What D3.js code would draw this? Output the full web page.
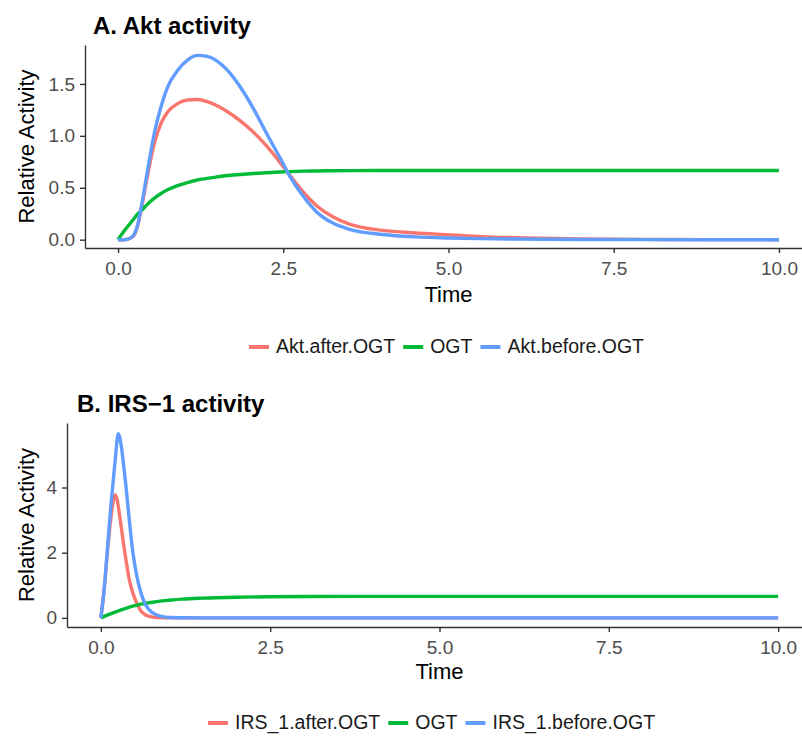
<!DOCTYPE html>
<html>
<head>
<meta charset="utf-8">
<script src="https://cdn.jsdelivr.net/npm/d3@7/dist/d3.min.js"></script>
<style>
  html, body { margin: 0; padding: 0; background: #fff; }
  svg { display: block; font-family: "Liberation Sans", Arial, sans-serif; }
</style>
</head>
<body>
<svg id="chart" width="802" height="736"></svg>
<script>
// ---------------- DATA ----------------
const xTicks = [0, 2.5, 5, 7.5, 10];
const yTicksA = [0, 0.5, 1.0, 1.5];
const yTicksB = [0, 2, 4];

const timeA = [0, 0.1, 0.2, 0.25, 0.3, 0.35, 0.45, 0.55, 0.65, 0.75, 0.9, 1.05, 1.2, 1.35, 1.5, 1.65, 1.85, 2.05, 2.25, 2.45, 2.6, 2.8, 3.0, 3.25, 3.5, 4.0, 4.5, 5.0, 5.5, 6.0, 7.0, 8.0, 9.0, 10.0];
const aktAfter = [0, 0, 0.02, 0.05, 0.14, 0.29, 0.63, 0.93, 1.12, 1.23, 1.31, 1.345, 1.35, 1.33, 1.29, 1.235, 1.145, 1.035, 0.9, 0.745, 0.62, 0.46, 0.33, 0.22, 0.15, 0.09, 0.065, 0.048, 0.03, 0.02, 0.008, 0.003, 0.001, 0];
const aktBefore = [0, 0, 0.02, 0.06, 0.15, 0.31, 0.68, 1.03, 1.28, 1.47, 1.63, 1.73, 1.775, 1.765, 1.72, 1.635, 1.47, 1.26, 1.02, 0.79, 0.61, 0.42, 0.27, 0.16, 0.1, 0.05, 0.027, 0.016, 0.01, 0.006, 0.002, 0.001, 0, 0];
const ogtA = [0, 0.09, 0.17, 0.21, 0.25, 0.28, 0.345, 0.40, 0.445, 0.48, 0.52, 0.55, 0.575, 0.59, 0.605, 0.618, 0.628, 0.637, 0.645, 0.652, 0.656, 0.66, 0.662, 0.664, 0.665, 0.666, 0.667, 0.667, 0.667, 0.667, 0.667, 0.667, 0.667, 0.667];

const timeB = [0, 0.05, 0.1, 0.15, 0.18, 0.21, 0.24, 0.255, 0.27, 0.3, 0.33, 0.37, 0.42, 0.47, 0.52, 0.59, 0.66, 0.76, 0.85, 0.95, 1.05, 1.2, 1.5, 2.0, 2.5, 3.0, 4.0, 5.0, 6.0, 7.0, 8.0, 9.0, 10.0];
const irsAfter = [0, 0.9, 2.1, 3.1, 3.55, 3.78, 3.62, 3.45, 3.25, 2.8, 2.35, 1.78, 1.17, 0.78, 0.5, 0.22, 0.09, 0.025, 0.01, 0.003, 0, 0, 0, 0, 0, 0, 0, 0, 0, 0, 0, 0, 0];
const irsBefore = [0, 0.9, 2.2, 3.5, 4.15, 4.8, 5.45, 5.65, 5.6, 5.3, 4.8, 4.05, 3.0, 2.05, 1.4, 0.78, 0.4, 0.16, 0.07, 0.025, 0.01, 0.003, 0, 0, 0, 0, 0, 0, 0, 0, 0, 0, 0];
const ogtB = [0, 0.045, 0.09, 0.13, 0.155, 0.175, 0.2, 0.21, 0.22, 0.245, 0.265, 0.29, 0.33, 0.36, 0.385, 0.42, 0.45, 0.48, 0.505, 0.53, 0.55, 0.575, 0.605, 0.635, 0.65, 0.657, 0.66, 0.66, 0.66, 0.66, 0.66, 0.66, 0.66];

const seriesNamesA = ["Akt.after.OGT", "OGT", "Akt.before.OGT"];
const seriesNamesB = ["IRS_1.after.OGT", "OGT", "IRS_1.before.OGT"];
const colors = ["#F8766D", "#00BA38", "#619CFF"];

// ---------------- DRAW ----------------
const svg = d3.select("#chart");
const FONT = '"Liberation Sans", Arial, sans-serif';

function panel(cfg) {
  const g = svg.append("g");
  const x = d3.scaleLinear().domain([-0.5, 10.5]).range([cfg.left, 812]);
  const y = d3.scaleLinear().domain(cfg.yDomain).range([cfg.bottom, cfg.top]);

  // title
  g.append("text").attr("x", cfg.titleX).attr("y", cfg.titleY)
    .attr("font-size", 24).attr("font-weight", "bold").attr("fill", "#000")
    .text(cfg.title);

  // lines
  const line = d3.line().x(d => x(d[0])).y(d => y(d[1])).curve(d3.curveMonotoneX);
  cfg.series.forEach((vals, i) => {
    const pts = cfg.time.map((t, j) => [t, vals[j]]);
    g.append("path").datum(pts).attr("d", line)
      .attr("fill", "none").attr("stroke", colors[i])
      .attr("stroke-width", 3.4).attr("stroke-linejoin", "round").attr("stroke-linecap", "butt");
  });

  // x axis
  const xa = g.append("g").attr("transform", `translate(0,${cfg.bottom})`)
    .call(d3.axisBottom(x).tickValues(xTicks).tickFormat(d3.format(".1f"))
      .tickSize(5).tickSizeOuter(0).tickPadding(9));
  // y axis
  const ya = g.append("g").attr("transform", `translate(${cfg.left},0)`)
    .call(d3.axisLeft(y).tickValues(cfg.yTicks).tickFormat(cfg.yFormat)
      .tickSize(5).tickSizeOuter(0).tickPadding(5));
  [xa, ya].forEach(a => {
    a.select(".domain").attr("stroke", "#333").attr("stroke-width", 1.4);
    a.selectAll(".tick line").attr("stroke", "#333").attr("stroke-width", 1.4);
    a.selectAll(".tick text").attr("fill", "#4D4D4D").attr("font-size", 19).attr("font-family", FONT);
  });

  // axis titles
  g.append("text").attr("x", (cfg.left + 812) / 2).attr("y", cfg.timeY)
    .attr("text-anchor", "middle").attr("font-size", 22).attr("fill", "#000").text("Time");
  g.append("text")
    .attr("transform", `translate(${cfg.yTitleX},${(cfg.top + cfg.bottom) / 2}) rotate(-90)`)
    .attr("text-anchor", "middle").attr("font-size", 22).attr("fill", "#000").text("Relative Activity");

  // legend
  const lg = g.append("g");
  let cx = cfg.legendX;
  cfg.names.forEach((nm, i) => {
    lg.append("line").attr("x1", cx).attr("x2", cx + 20)
      .attr("y1", cfg.legendY - 6).attr("y2", cfg.legendY - 6)
      .attr("stroke", colors[i]).attr("stroke-width", 4);
    const t = lg.append("text").attr("x", cx + 27).attr("y", cfg.legendY)
      .attr("font-size", 19.5).attr("fill", "#1a1a1a").text(nm);
    cx += 27 + t.node().getComputedTextLength() + 8;
  });
}

panel({
  title: "A. Akt activity", titleX: 93, titleY: 34,
  left: 85, top: 45, bottom: 248, yDomain: [-0.08, 1.875],
  yTicks: yTicksA, yFormat: d3.format(".1f"),
  time: timeA, series: [aktAfter, ogtA, aktBefore],
  timeY: 302, yTitleX: 34,
  names: seriesNamesA, legendX: 249, legendY: 353
});

panel({
  title: "B. IRS\u22121 activity", titleX: 77, titleY: 412,
  left: 67, top: 423, bottom: 627, yDomain: [-0.28, 5.98],
  yTicks: yTicksB, yFormat: d3.format("d"),
  time: timeB, series: [irsAfter, ogtB, irsBefore],
  timeY: 679, yTitleX: 34,
  names: seriesNamesB, legendX: 208, legendY: 729
});
</script>
</body>
</html>
